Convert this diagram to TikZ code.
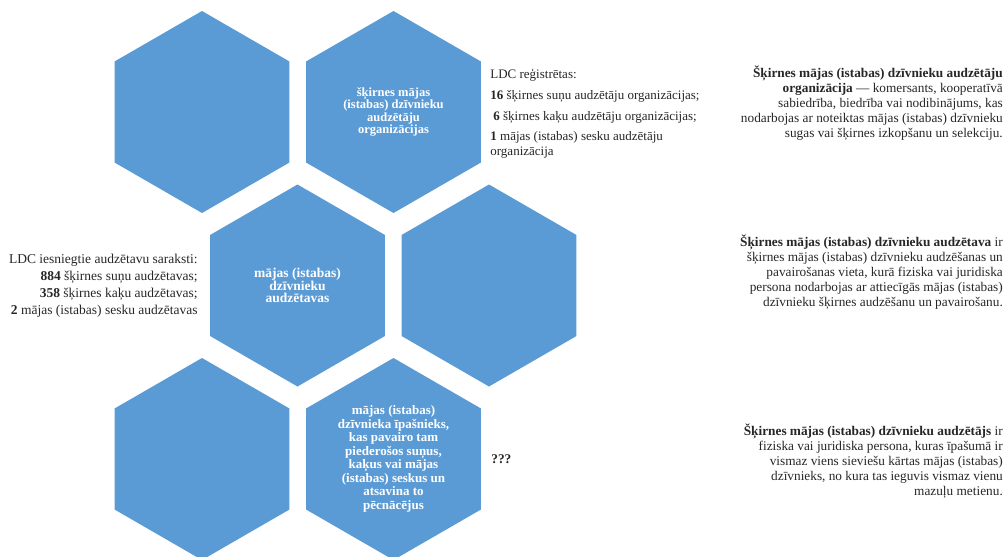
\documentclass[tikz,border=0pt]{standalone}
\usepackage{fontspec}
\setmainfont{Liberation Serif}
\usetikzlibrary{positioning, shapes.geometric}
\definecolor{hexblue}{RGB}{91,155,213}
\definecolor{inkgray}{RGB}{38,38,38}

\begin{document}
\begin{tikzpicture}[
      node distance=191.5pt, on grid,
      hex/.style={regular polygon, regular polygon sides=6, shape border rotate=30,
        minimum size=202pt, inner sep=0pt, fill=hexblue, text=white, align=center,
        font=\bfseries\fontsize{12.5}{12.5}\selectfont},
      infotext/.style={inner sep=0pt, text=inkgray, font=\fontsize{13.3}{15}\selectfont},
      ]
      \useasboundingbox (0,0) rectangle (1007pt,-557pt);

      % the six cells
      \node[hex]   (h_1) at (202pt,-112pt)                 {};
      \node[hex]   (h_2) [right=of h_1]                    {šķirnes mājas\\(istabas) dzīvnieku\\audzētāju\\organizācijas};
      \node[hex, font=\bfseries\fontsize{13.5}{12.8}\selectfont]
                   (h_3) [below right=173.5pt and 95.5pt of h_1] {mājas (istabas)\\dzīvnieku\\audzētavas};
      \node[hex]   (h_4) [right=of h_3]                    {};
      \node[hex]   (h_5) [below=347pt of h_1]              {};
      \node[hex, font=\bfseries\fontsize{13}{13.5}\selectfont]
                   (h_6) [right=of h_5]                    {mājas (istabas)\\dzīvnieka īpašnieks,\\kas pavairo tam\\piederošos suņus,\\kaķus vai mājas\\(istabas) seskus un\\atsavina to\\pēcnācējus};

      % numbers beside the cells
      \node[infotext, anchor=west, align=left, font=\fontsize{13}{15}\selectfont]
        (t_reg) at ([xshift=9pt,yshift=-2pt]h_2.east)
        {LDC reģistrētas:\\[6pt]
         \textbf{16} šķirnes suņu audzētāju organizācijas;\\[6pt]
         \hspace*{3pt}\textbf{6} šķirnes kaķu audzētāju organizācijas;\\[5pt]
         \textbf{1} mājas (istabas) sesku audzētāju\\organizācija};
      \node[infotext, anchor=east, align=right, font=\fontsize{13.5}{17}\selectfont]
        (t_list) at ([xshift=-12pt]h_3.west)
        {LDC iesniegtie audzētavu saraksti:\\
         \textbf{884} šķirnes suņu audzētavas;\\
         \textbf{358} šķirnes kaķu audzētavas;\\
         \textbf{2} mājas (istabas) sesku audzētavas};
      \node[infotext, anchor=west] (t_q) at ([xshift=10pt]h_6.east) {\textbf{???}};

      % definitions on the right
      \node[infotext, anchor=east, align=right] (d_1) at (1003pt,-103pt)
        {\textbf{Šķirnes mājas (istabas) dzīvnieku audzētāju}\\
         \textbf{organizācija} — komersants, kooperatīvā\\
         sabiedrība, biedrība vai nodibinājums, kas\\
         nodarbojas ar noteiktas mājas (istabas) dzīvnieku\\
         sugas vai šķirnes izkopšanu un selekciju.};
      \node[infotext, anchor=east, align=right] (d_2) at (1003pt,-272pt)
        {\textbf{Šķirnes mājas (istabas) dzīvnieku audzētava} ir\\
         šķirnes mājas (istabas) dzīvnieku audzēšanas un\\
         pavairošanas vieta, kurā fiziska vai juridiska\\
         persona nodarbojas ar attiecīgās mājas (istabas)\\
         dzīvnieku šķirnes audzēšanu un pavairošanu.};
      \node[infotext, anchor=east, align=right] (d_3) at (1003pt,-461pt)
        {\textbf{Šķirnes mājas (istabas) dzīvnieku audzētājs} ir\\
         fiziska vai juridiska persona, kuras īpašumā ir\\
         vismaz viens sieviešu kārtas mājas (istabas)\\
         dzīvnieks, no kura tas ieguvis vismaz vienu\\
         mazuļu metienu.};
\end{tikzpicture}
\end{document}
